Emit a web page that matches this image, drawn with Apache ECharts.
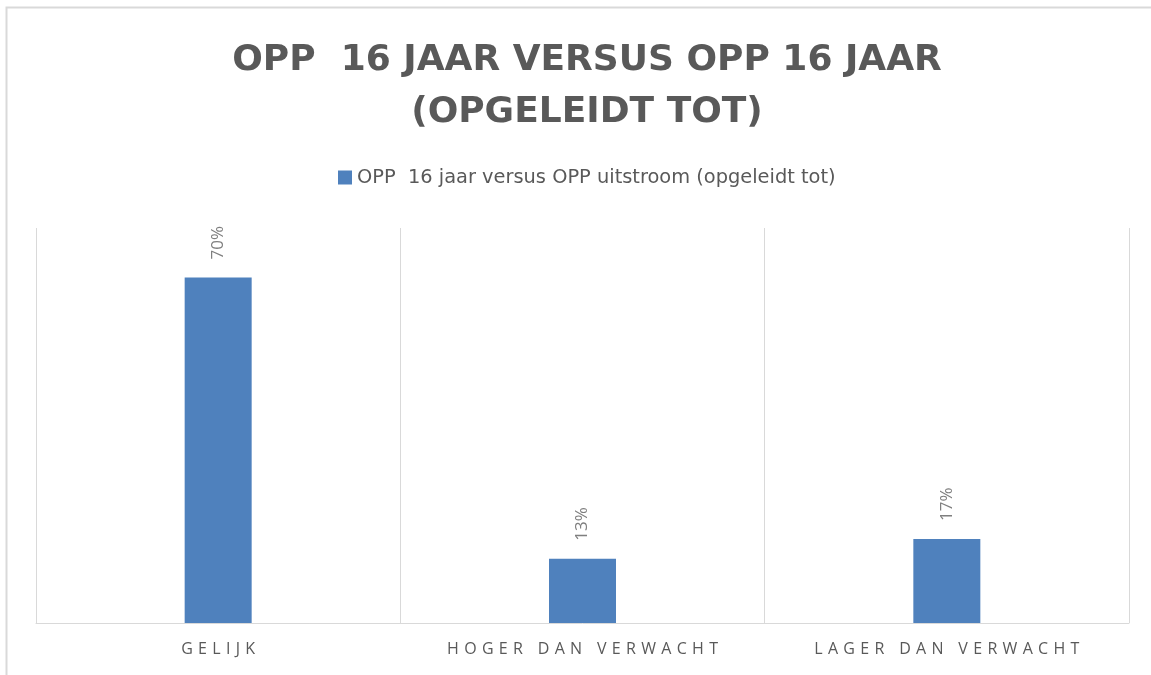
<!DOCTYPE html>
<html>
<head>
<meta charset="utf-8">
<script src="https://cdn.jsdelivr.net/npm/echarts@6/dist/echarts.min.js"></script>
<style>
html, body { margin: 0; padding: 0; background: #fff; }
#main { width: 1151px; height: 675px; }
</style>
</head>
<body>
<div id="main"></div>
<script>
var categories = ['GELIJK', 'HOGER DAN VERWACHT', 'LAGER DAN VERWACHT'];
var values = [0.70, 0.13, 0.17];
var seriesName = 'OPP  16 jaar versus OPP uitstroom (opgeleidt tot)';

// spread letters out a bit, like the Excel axis labels
function spaced(s) {
    return s.split('').join('\u2009\u2009');
}

var myChart = echarts.init(document.getElementById('main'));
var option = {
    backgroundColor: '#fff',
    title: {
        text: 'OPP  16 JAAR VERSUS OPP 16 JAAR\n(OPGELEIDT TOT)',
        left: 582,
        top: 30,
        textAlign: 'center',
        textStyle: {
            fontFamily: 'DejaVu Sans',
            fontSize: 36,
            fontWeight: 'bold',
            color: '#595959',
            lineHeight: 52
        }
    },
    legend: {
        data: [seriesName],
        left: 333,
        top: 163,
        icon: 'rect',
        itemWidth: 14,
        itemHeight: 14,
        textStyle: {
            fontFamily: 'DejaVu Sans',
            fontSize: 19.4,
            color: '#595959'
        }
    },
    grid: {
        left: 36,
        right: 22,
        top: 228,
        bottom: 52
    },
    xAxis: {
        type: 'category',
        data: categories,
        axisLine: { lineStyle: { color: '#d9d9d9', width: 1 } },
        axisTick: { show: false },
        splitLine: { show: true, lineStyle: { color: '#d9d9d9', width: 1 } },
        axisLabel: {
            margin: 18,
            fontFamily: 'Open Sans',
            fontSize: 16,
            color: '#595959',
            formatter: function (v) { return spaced(v); }
        }
    },
    yAxis: {
        type: 'value',
        min: 0,
        max: 0.8,
        show: false,
        splitLine: { show: false }
    },
    series: [{
        name: seriesName,
        type: 'bar',
        data: values,
        barWidth: 67,
        itemStyle: { color: '#4f81bd' },
        label: {
            show: true,
            position: 'top',
            rotate: 90,
            align: 'left',
            verticalAlign: 'middle',
            distance: 18,
            fontFamily: 'Open Sans',
            fontSize: 17,
            color: '#7f7f7f',
            formatter: function (p) { return Math.round(p.value * 100) + '%'; }
        }
    }],
    graphic: [{
        type: 'rect',
        shape: { x: 6.5, y: 7.5, width: 1200, height: 700 },
        style: { fill: 'none', stroke: '#d9d9d9', lineWidth: 2 },
        silent: true
    }]
};
myChart.setOption(option);
</script>
</body>
</html>
